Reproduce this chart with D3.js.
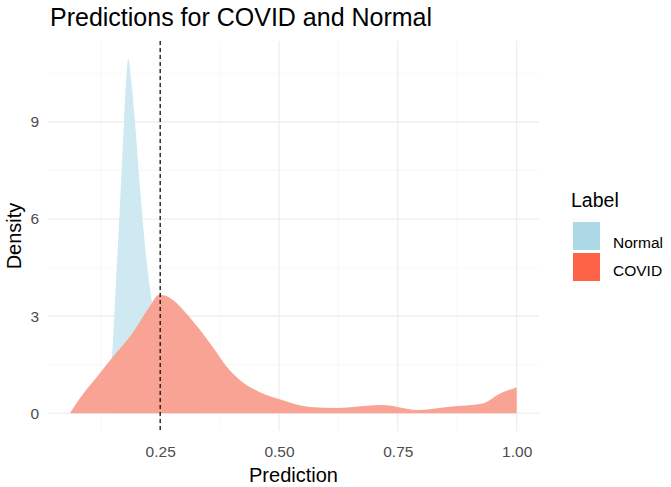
<!DOCTYPE html>
<html>
<head>
<meta charset="utf-8">
<script src="https://cdn.jsdelivr.net/npm/d3@7"></script>
<style>
  body { margin: 0; background: #fff; }
  svg { display: block; font-family: "Liberation Sans", Arial, sans-serif; }
</style>
</head>
<body>
<div class="container"></div>
<script>
// DATA
const labels = ["Normal", "COVID"];
const keyColors = ["#add8e6", "#ff6347"];
const areaColors = ["#cee9f1", "#f8a393"];

const normalPrediction = [0.141, 0.149, 0.155, 0.164, 0.174, 0.183, 0.189, 0.197, 0.208, 0.216, 0.229, 0.239, 0.26, 0.29, 0.33];
const normalDensity    = [0,     1.8,   3.5,   6.0,   9.0,   10.95, 10.3,  9.0,   6.9,   5.5,   3.8,   2.9,   1.6,  0.4,  0.02];

const covidPrediction = [0.061, 0.088, 0.116, 0.145, 0.193, 0.228, 0.248, 0.271, 0.298, 0.334, 0.361, 0.391, 0.418, 0.46, 0.508, 0.565, 0.622, 0.68, 0.718, 0.79, 0.859, 0.929, 0.964, 0.996, 1.0];
const covidDensity    = [0.02,  0.6,   1.1,   1.64,  2.5,   3.3,   3.66,  3.56,  3.2,   2.57,  2.04,  1.42,  1.02,  0.65, 0.40,  0.19,  0.16,  0.22, 0.25,  0.1,  0.2,   0.3,   0.6,   0.78,  0.8];

const xTicks = [0.25, 0.5, 0.75, 1.0];
const xMinor = [0.125, 0.375, 0.625, 0.875];
const yTicks = [0, 3, 6, 9];
const yMinor = [1.5, 4.5, 7.5, 10.5];
const threshold = 0.25;

// SETUP
const W = 671, H = 487;
const margin = { top: 41, right: 132, bottom: 56, left: 48 };
const width = W - margin.left - margin.right,
      height = H - margin.top - margin.bottom;

const svg = d3.select("div.container")
  .append("svg")
  .attr("width", W)
  .attr("height", H);

const g = svg.append("g")
  .attr("transform", `translate(${margin.left}, ${margin.top})`);

const x = d3.scaleLinear().domain([0.014, 1.047]).range([0, width]);
const y = d3.scaleLinear().domain([-0.55, 11.5]).range([height, 0]);

// grid: minor first, then major
g.selectAll("line.xminor").data(xMinor).enter().append("line")
  .attr("x1", d => x(d)).attr("x2", d => x(d))
  .attr("y1", 0).attr("y2", height)
  .attr("stroke", "#f3f3f3").attr("stroke-width", 0.6);
g.selectAll("line.yminor").data(yMinor).enter().append("line")
  .attr("y1", d => y(d)).attr("y2", d => y(d))
  .attr("x1", 0).attr("x2", width)
  .attr("stroke", "#f3f3f3").attr("stroke-width", 0.6);
g.selectAll("line.xmajor").data(xTicks).enter().append("line")
  .attr("x1", d => x(d)).attr("x2", d => x(d))
  .attr("y1", 0).attr("y2", height)
  .attr("stroke", "#ebebeb").attr("stroke-width", 1.1);
g.selectAll("line.ymajor").data(yTicks).enter().append("line")
  .attr("y1", d => y(d)).attr("y2", d => y(d))
  .attr("x1", 0).attr("x2", width)
  .attr("stroke", "#ebebeb").attr("stroke-width", 1.1);

// density areas (COVID drawn last, covering Normal)
const area = d3.area()
  .x(d => x(d[0]))
  .y0(y(0))
  .y1(d => y(d[1]))
  .curve(d3.curveMonotoneX);

const series = [
  d3.zip(normalPrediction, normalDensity),
  d3.zip(covidPrediction, covidDensity)
];

g.selectAll("path.density")
  .data(series)
  .enter()
  .append("path")
  .attr("class", "density")
  .attr("d", area)
  .attr("fill", (d, i) => areaColors[i]);

// threshold line
g.append("line")
  .attr("x1", x(threshold)).attr("x2", x(threshold))
  .attr("y1", 0).attr("y2", height)
  .attr("stroke", "#000")
  .attr("stroke-width", 1.2)
  .attr("stroke-dasharray", "4,3");

// axes (text only, theme_minimal style)
const xAxis = g.append("g")
  .attr("transform", `translate(0, ${height})`)
  .call(d3.axisBottom(x).tickValues(xTicks).tickFormat(d3.format(".2f")).tickSize(0).tickPadding(15));
const yAxis = g.append("g")
  .call(d3.axisLeft(y).tickValues(yTicks).tickSize(0).tickPadding(9));
[xAxis, yAxis].forEach(a => {
  a.select(".domain").remove();
  a.selectAll("text")
    .attr("fill", "#4d4d4d")
    .style("font-size", "15.5px")
    .style("font-family", "'Liberation Sans', Arial, sans-serif");
});

// titles
svg.append("text")
  .attr("x", 50).attr("y", 26)
  .style("font-size", "25px")
  .attr("fill", "#000")
  .text("Predictions for COVID and Normal");

svg.append("text")
  .attr("x", margin.left + width / 2).attr("y", 482)
  .attr("text-anchor", "middle")
  .style("font-size", "20px")
  .text("Prediction");

svg.append("text")
  .attr("transform", `translate(21, ${margin.top + height / 2}) rotate(-90)`)
  .attr("text-anchor", "middle")
  .style("font-size", "20px")
  .text("Density");

// legend
const legend = svg.append("g")
  .attr("transform", "translate(571, 0)");

legend.append("text")
  .attr("x", 0).attr("y", 207)
  .style("font-size", "19.5px")
  .text("Label");

legend.selectAll("rect")
  .data(labels)
  .enter()
  .append("rect")
  .attr("x", 2)
  .attr("y", (d, i) => 222 + i * 31)
  .attr("width", 27)
  .attr("height", 28)
  .attr("fill", (d, i) => keyColors[i]);

legend.selectAll("text.lab")
  .data(labels)
  .enter()
  .append("text")
  .attr("class", "lab")
  .attr("x", 42)
  .attr("y", (d, i) => 248 + i * 28)
  .style("font-size", "15.5px")
  .text(d => d);
</script>
</body>
</html>
